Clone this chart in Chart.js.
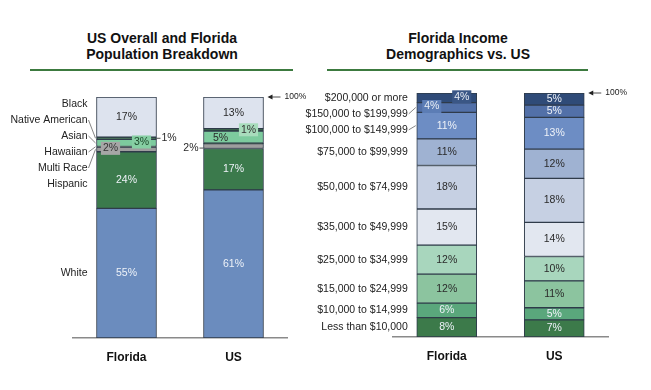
<!DOCTYPE html>
<html>
<head>
<meta charset="utf-8">
<script src="https://cdn.jsdelivr.net/npm/chart.js@4.4.1/dist/chart.umd.min.js"></script>
<style>
    body { margin: 0; background: #fff; width: 651px; height: 390px; overflow: hidden; position: relative;
           font-family: "Liberation Sans", Arial, sans-serif; }
    .title { position: absolute; top: 30px; width: 300px; text-align: center; font-weight: bold;
             font-size: 14px; line-height: 16px; color: #111; }
    .rule { position: absolute; top: 69px; height: 2px; background: #3C7A3F; }
    canvas { position: absolute; top: 0; }
</style>
</head>
<body>
<div class="title" style="left:12px">US Overall and Florida<br>Population Breakdown</div>
<div class="rule" style="left:30px;width:263px"></div>
<div class="title" style="left:308px">Florida Income<br>Demographics vs. US</div>
<div class="rule" style="left:327px;width:261px"></div>
<canvas id="popChart" width="325" height="390" style="left:0"></canvas>
<canvas id="incomeChart" width="351" height="390" style="left:300px"></canvas>

<script>
// Données
const barNames = ["Florida", "US"];

const popGroups = ["White", "Hispanic", "Multi Race", "Hawaiian", "Asian", "Native American", "Black"];
const popFlorida = [55, 24, 2, 0.2, 3, 1, 17];
const popUS = [61, 17, 2, 0.2, 5, 1, 13];

const incomeGroups = [
    "Less than $10,000", "$10,000 to $14,999", "$15,000 to $24,999", "$25,000 to $34,999",
    "$35,000 to $49,999", "$50,000 to $74,999", "$75,000 to $99,999", "$100,000 to $149,999",
    "$150,000 to $199,999", "$200,000 or more"
];
const incomeFlorida = [8, 6, 12, 12, 15, 18, 11, 11, 4, 4];
const incomeUS = [7, 5, 11, 10, 14, 18, 12, 13, 5, 5];

// Styles
const FONT = '"Liberation Sans", Arial, sans-serif';
const popColors = ["#6B8CBE", "#3B7A4C", "#9E9E9E", "#2F4F3A", "#7DCB9E", "#2E5E3E", "#DDE3EE"];
const popLight = [true, true, false, false, false, false, false];
const incomeColors = ["#3C7A4A", "#5AA77C", "#8CC49F", "#A8D6BD", "#E2E7F0",
                      "#C6D0E3", "#9FB2D2", "#6D8DC4", "#5270A8", "#2F4B78"];
const incomeLight = [true, true, false, false, false, false, false, true, true, true];

// Réglages des étiquettes de valeur ("dataset-barre")
const popTweaks = {
    "5-0": { side: "right" },
    "4-0": { dx: 15, dy: -1, box: "#86CFA3", color: "#1E4A2C" },
    "2-0": { dx: -16, dy: -1, box: "#A6A6A6", color: "#333" },
    "5-1": { dx: 15, box: "#A8DCBC", color: "#333" },
    "4-1": { dx: -13, dy: 1 },
    "2-1": { side: "left", dy: 2 },
};
const incomeTweaks = {
    "9-0": { dx: 15, dy: -1, box: "#3A5685", color: "#E8EEF6" },
    "8-0": { dx: -15, dy: -1, box: "#5C7DB5", color: "#E8EEF6" },
};

function toShare(arr) {
    var total = arr.reduce(function (a, b) { return a + b; }, 0);
    return arr.map(function (v) { return v / total * 100; });
}

function buildDatasets(groups, fl, us, colors) {
    var flShare = toShare(fl);
    var usShare = toShare(us);
    return groups.map(function (g, i) {
        return {
            label: g,
            data: [flShare[i], usShare[i]],
            backgroundColor: colors[i],
            borderColor: "#2F3B4A",
            borderWidth: 1,
            borderSkipped: false,
            barThickness: 60,
        };
    });
}

function segment(chart, i, j) {
    var p = chart.getDatasetMeta(i).data[j].getProps(["x", "y", "base", "width"], true);
    var top = Math.min(p.y, p.base), bottom = Math.max(p.y, p.base);
    return { x: p.x, top: top, bottom: bottom, mid: (top + bottom) / 2,
             left: p.x - p.width / 2, right: p.x + p.width / 2 };
}

function line(ctx, x1, y1, x2, y2, color) {
    ctx.save();
    ctx.strokeStyle = color || "#444";
    ctx.lineWidth = 0.8;
    ctx.beginPath();
    ctx.moveTo(x1, y1);
    ctx.lineTo(x2, y2);
    ctx.stroke();
    ctx.restore();
}

function drawValues(chart, raws, light, tweaks) {
    var ctx = chart.ctx;
    ctx.save();
    ctx.font = "10.5px " + FONT;
    ctx.textBaseline = "middle";
    chart.data.datasets.forEach(function (ds, i) {
        raws.forEach(function (raw, j) {
            var v = raw[i];
            if (v < 0.5) return;
            var s = segment(chart, i, j);
            var t = tweaks[i + "-" + j] || {};
            var text = v + "%";
            var ty = s.mid + (t.dy || 0);
            var tx = s.x + (t.dx || 0);
            ctx.textAlign = "center";
            if (t.side === "right") {
                line(ctx, s.right, ty, s.right + 4, ty, "#222");
                ctx.textAlign = "left";
                tx = s.right + 5;
            } else if (t.side === "left") {
                line(ctx, s.left - 4, ty, s.left, ty, "#222");
                ctx.textAlign = "right";
                tx = s.left - 5;
            }
            if (t.box) {
                var w = ctx.measureText(text).width + 4;
                ctx.fillStyle = t.box;
                ctx.fillRect(tx - w / 2, ty - 6.5, w, 13);
            }
            ctx.fillStyle = t.color || (light[i] ? "#EEF2F8" : "#2A2A2A");
            ctx.fillText(text, tx, ty);
        });
    });
    ctx.restore();
}

function drawRowLabels(chart, groups, ys, leaders) {
    var ctx = chart.ctx;
    var first = segment(chart, 0, 0);
    var right = first.left - 9;
    ctx.save();
    ctx.font = "10.5px " + FONT;
    ctx.textBaseline = "middle";
    ctx.textAlign = "right";
    ctx.fillStyle = "#222";
    groups.forEach(function (g, i) {
        ctx.fillText(g, right, ys[i]);
        if (leaders[i]) {
            var s = segment(chart, i, 0);
            line(ctx, right + 1, ys[i], s.left - 1, s.mid, "#666");
        }
    });
    ctx.restore();
}

function drawTopArrow(chart) {
    var ctx = chart.ctx;
    var s = segment(chart, chart.data.datasets.length - 1, 1);
    var y = chart.scales.y.getPixelForValue(100);
    var x0 = s.right;
    ctx.save();
    line(ctx, x0 + 6, y, x0 + 17, y, "#222");
    ctx.fillStyle = "#222";
    ctx.beginPath();
    ctx.moveTo(x0 + 4, y);
    ctx.lineTo(x0 + 9, y - 2.5);
    ctx.lineTo(x0 + 9, y + 2.5);
    ctx.closePath();
    ctx.fill();
    ctx.font = "8.5px " + FONT;
    ctx.textBaseline = "middle";
    ctx.textAlign = "left";
    ctx.fillText("100%", x0 + 21, y);
    ctx.restore();
}

const popPlugin = {
    id: "popLabels",
    afterDatasetsDraw: function (chart) {
        drawValues(chart, [popFlorida, popUS], popLight, popTweaks);
        var ys = [];
        ys[0] = segment(chart, 0, 0).mid;
        ys[1] = segment(chart, 1, 0).mid + 4;
        for (var k = 2; k < popGroups.length; k++) ys[k] = ys[1] - (k - 1) * 16;
        drawRowLabels(chart, popGroups, ys, [false, false, true, true, true, true, false]);
        drawTopArrow(chart);
    },
};

const incomePlugin = {
    id: "incomeLabels",
    afterDatasetsDraw: function (chart) {
        drawValues(chart, [incomeFlorida, incomeUS], incomeLight, incomeTweaks);
        var n = incomeGroups.length;
        var ys = [], leaders = [];
        for (var i = n - 1; i >= 0; i--) {
            var mid = segment(chart, i, 0).mid;
            ys[i] = i === n - 1 ? mid : Math.max(mid, ys[i + 1] + 16);
            leaders[i] = ys[i] - mid > 4;
        }
        drawRowLabels(chart, incomeGroups, ys, leaders);
        drawTopArrow(chart);
    },
};

function makeChart(canvasId, datasets, padding, tickPadding, plugin) {
    var ctx = document.getElementById(canvasId).getContext("2d");
    return new Chart(ctx, {
        type: "bar",
        data: { labels: barNames, datasets: datasets },
        options: {
            responsive: false,
            animation: false,
            devicePixelRatio: 1,
            layout: { padding: padding },
            plugins: { legend: { display: false }, tooltip: { enabled: false } },
            scales: {
                x: {
                    stacked: true,
                    grid: { display: false, drawTicks: false },
                    border: { display: true, color: "#8A8A8A", width: 1.5 },
                    ticks: { color: "#111", padding: tickPadding,
                             font: { family: FONT, size: 12, weight: "bold" } },
                },
                y: { stacked: true, display: false, min: 0, max: 100 },
            },
        },
        plugins: [plugin],
    });
}

makeChart("popChart", buildDatasets(popGroups, popFlorida, popUS, popColors),
    { left: 73, right: 38, top: 97, bottom: 13.6 }, 12, popPlugin);
makeChart("incomeChart", buildDatasets(incomeGroups, incomeFlorida, incomeUS, incomeColors),
    { left: 93, right: 43, top: 93, bottom: 14.6 }, 12, incomePlugin);
</script>
</body>
</html>
